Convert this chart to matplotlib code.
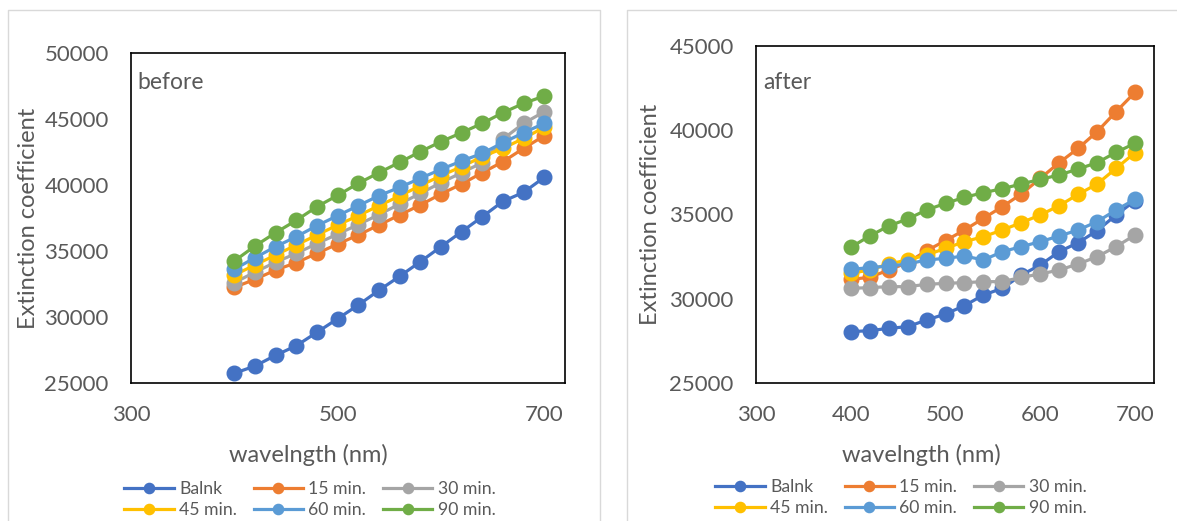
import matplotlib
matplotlib.use("Agg")
from matplotlib import pyplot as plt
from matplotlib.lines import Line2D

plt.rcParams['font.family'] = ['Lato', 'DejaVu Sans']

wavelength = [400, 420, 440, 460, 480, 500, 520, 540, 560, 580, 600, 620, 640, 660, 680, 700]
labels = ["Balnk", "15 min.", "30 min.", "45 min.", "60 min.", "90 min."]
colors = ["#4472C4", "#ED7D31", "#A5A5A5", "#FFC000", "#5B9BD5", "#70AD47"]

# before
before_blank = [25735, 26288, 27098, 27826, 28841, 29871, 30909, 32023, 33083, 34189, 35326, 36462, 37598, 38765, 39447, 40583]
before_15 = [32248, 32853, 33561, 34116, 34823, 35530, 36212, 36970, 37727, 38485, 39318, 40076, 40934, 41768, 42778, 43737]
before_30 = [32601, 33400, 34150, 34823, 35560, 36288, 37000, 37760, 38561, 39369, 40177, 40934, 41692, 43485, 44672, 45555]
before_45 = [33182, 33940, 34697, 35455, 36212, 36970, 37677, 38434, 39167, 39950, 40707, 41389, 42146, 42778, 43535, 44370]
before_60 = [33614, 34495, 35328, 36086, 36919, 37677, 38434, 39192, 39823, 40505, 41187, 41818, 42399, 43207, 43965, 44672]
before_90 = [34242, 35379, 36389, 37323, 38359, 39217, 40126, 40934, 41717, 42525, 43283, 43965, 44672, 45480, 46187, 46742]

# after
after_blank = [28047, 28106, 28244, 28343, 28739, 29095, 29590, 30223, 30619, 31410, 32003, 32795, 33329, 34041, 34971, 35822]
after_15 = [31153, 31271, 31707, 32142, 32854, 33448, 34081, 34773, 35466, 36217, 37147, 38077, 38927, 39917, 41104, 42251]
after_30 = [30619, 30659, 30718, 30718, 30856, 30916, 30955, 31015, 31015, 31271, 31469, 31707, 32063, 32498, 33092, 33784]
after_45 = [31509, 31707, 32063, 32300, 32597, 32992, 33388, 33685, 34081, 34516, 34971, 35525, 36197, 36811, 37740, 38670]
after_60 = [31746, 31845, 31944, 32063, 32300, 32399, 32537, 32300, 32795, 33092, 33388, 33725, 34081, 34575, 35268, 35900]
after_90 = [33052, 33725, 34318, 34734, 35268, 35663, 36019, 36296, 36533, 36811, 37088, 37345, 37701, 38077, 38690, 39225]

before = [before_blank, before_15, before_30, before_45, before_60, before_90]
after = [after_blank, after_15, after_30, after_45, after_60, after_90]

grey = "#595959"
W, H = 1177, 521
fig = plt.figure(figsize=(W / 100, H / 100), dpi=100)

# chart area outlines
for xs, ys in [([8, 8, 600, 600], [530, 10, 10, 530]), ([627, 627, 1190], [530, 10, 10])]:
    fig.add_artist(Line2D([x / W for x in xs], [1 - y / H for y in ys],
                          transform=fig.transFigure, color="#D9D9D9", lw=1))


def panel(rect, series, ylim, yticks, tag, tagpos, ylab_x, xlab_pos, leg_pos, xticks):
    ax = fig.add_axes(rect)
    lines = []
    for vals, lab, col in zip(series, labels, colors):
        ln, = ax.plot(wavelength, vals, color=col, lw=2.3, marker="o", markersize=10.5, label=lab)
        lines.append(ln)
    ax.set_xlim(300, 720)
    ax.set_ylim(*ylim)
    ax.set_xticks(xticks)
    ax.set_yticks(yticks)
    ax.tick_params(length=0, labelsize=16, labelcolor=grey)
    ax.tick_params(axis="y", pad=16)
    ax.tick_params(axis="x", pad=16)
    for s in ax.spines.values():
        s.set_color("black")
        s.set_linewidth(1.2)
    ax.set_ylabel("Extinction coefficient", fontsize=17, color=grey, va="center")
    ax.yaxis.set_label_coords(ylab_x, 0.5)
    ax.set_xlabel("wavelngth (nm)", fontsize=17, color=grey, va="center")
    ax.xaxis.set_label_coords(*xlab_pos)
    ax.text(tagpos[0], tagpos[1], tag, transform=ax.transAxes, fontsize=16.5, color=grey, va="center")
    # legend fills by column, so reorder to read row by row
    order = [0, 3, 1, 4, 2, 5]
    leg = ax.legend([lines[i] for i in order], [labels[i] for i in order],
                    loc="center", bbox_to_anchor=leg_pos, ncol=3, frameon=False, fontsize=12.7,
                    handlelength=2.8, handletextpad=0.3, columnspacing=0.95, labelspacing=0.3,
                    markerscale=0.7, borderaxespad=0)
    for t in leg.get_texts():
        t.set_color(grey)
    return ax


panel([131 / W, 1 - 383 / H, 434 / W, 330 / H], before, (25000, 50000),
      [25000, 30000, 35000, 40000, 45000, 50000], "before", (0.014, 0.912),
      -0.237, (0.408, -0.218), (0.412, -0.353), [300, 500, 700])
panel([756 / W, 1 - 383 / H, 398 / W, 337 / H], after, (25000, 45000),
      [25000, 30000, 35000, 40000, 45000], "after", (0.018, 0.893),
      -0.266, (0.415, -0.214), (0.364, -0.340), [300, 400, 500, 600, 700])

fig.savefig("out.png", dpi=100)
